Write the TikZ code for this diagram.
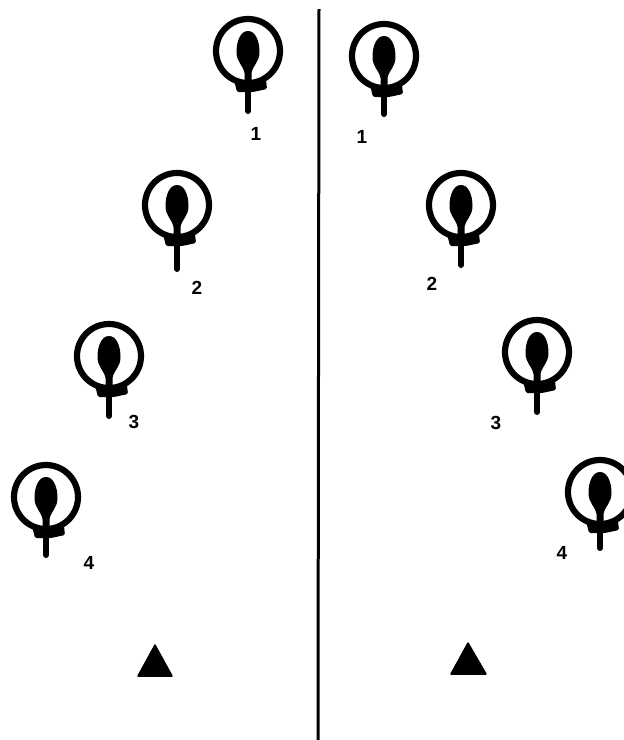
\documentclass[tikz,border=0pt]{standalone}
\usepackage{fontspec}
\setmainfont{Liberation Sans}
\tikzset{
  x=1pt,y=-1pt,
  lab/.style={font=\bfseries\fontsize{19}{19}\selectfont,inner sep=0pt,text=black},
  tri/.style={fill=black,draw=black,line width=1.5pt,line join=round},
  pics/player/.style={code={
    \draw[line width=6.2pt] (0,0) circle[radius=32];
    \fill[black] (0,-20) .. controls (8,-20) and (11.5,-9) .. (11.5,1) .. controls (11.5,11) and (5,14) .. (3.5,22) -- (3.5,32) -- (-3.5,32) -- (-3.5,22) .. controls (-5,14) and (-11.5,11) .. (-11.5,1) .. controls (-11.5,-9) and (-8,-20) .. (0,-20) -- cycle;
    \fill[black,rounded corners=1.5pt] (-14,29) -- (18,29) -- (19,38) -- (5,41) -- (-11,41) -- cycle;
    \draw[line width=6pt,line cap=round] (0,36) -- (0,#1);
  }},
  pics/player/.default=60
}
\begin{document}
\begin{tikzpicture}
\useasboundingbox[fill=white] (0,0) rectangle (624,740);
\clip (0,0) rectangle (624,740);
\coordinate (top) at (319,9);
\coordinate (bot) at (318,740);
\draw[line width=3pt] (top) -- (bot);
\pic at (248,51) {player=60};
\pic at (177,205) {player=64};
\pic at (109,356) {player=60};
\pic at (46,497) {player=58};
\pic at (384,56) {player=58};
\pic at (461,205) {player=60};
\pic at (537,352) {player=60};
\pic at (600,492) {player=56};
\node[lab] (l1) at (256,134) {1};
\node[lab] (l2) at (197,288) {2};
\node[lab] (l3) at (134,422) {3};
\node[lab] (l4) at (89,563) {4};
\node[lab] (r1) at (362,137) {1};
\node[lab] (r2) at (432,284) {2};
\node[lab] (r3) at (496,423) {3};
\node[lab] (r4) at (562,553) {4};
\draw[tri] (155,645) -- (172,676) -- (138,676) -- cycle;
\draw[tri] (468,643) -- (486,674) -- (451,674) -- cycle;
\end{tikzpicture}
\end{document}
